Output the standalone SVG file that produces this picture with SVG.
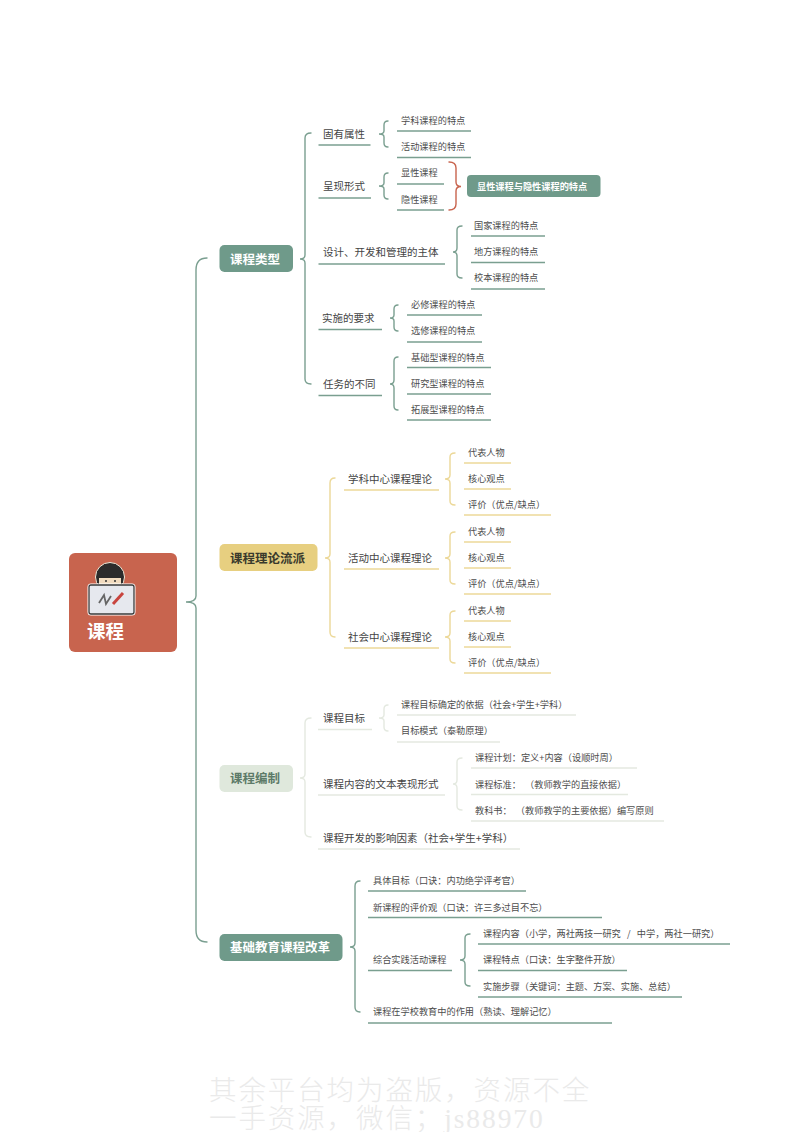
<svg xmlns="http://www.w3.org/2000/svg" width="800" height="1132" viewBox="0 0 800 1132">
<style>
text{font-family:"Noto Sans CJK SC","Liberation Sans",sans-serif;dominant-baseline:central}
.t2,.t3,.top,.tr{transform:translateY(-0.8px)}
.b{fill:none;stroke-width:1.4;stroke-linecap:round}
.u{stroke-width:1.4;fill:none}
.t2{font-size:10.5px;fill:#444}
.t3{font-size:9.2px;fill:#4d4d4d}
.top{font-size:12.5px;font-weight:700}
.gr{stroke:#7a9f90}
.ye{stroke:#ecd898}
.pa{stroke:#e4e9e0}
.re{stroke:#c8644e}
.wm{font-family:"Liberation Serif","Noto Sans CJK SC",serif;font-size:27.5px;letter-spacing:1.9px;fill:#eaeaea;font-weight:300}
</style>
<rect width="800" height="1132" fill="#fff"/>

<g id="connectors">
<path class="b gr" d="M207 258Q196 258 196 270V596Q196 602 186 602Q196 602 196 608V930Q196 942 207 942"/>
<path class="b gr" d="M311 133Q305 133 305 138V255Q305 259 300 259Q305 259 305 263V379Q305 384 311 384"/>
<path class="b gr" d="M388 121Q384 121 384 125V131Q384 134 379 134Q384 134 384 137V143Q384 147 388 147"/>
<path class="b gr" d="M388 173Q384 173 384 177V183Q384 186 379 186Q384 186 384 189V195Q384 199 388 199"/>
<path class="b re" d="M449 162Q456 162 456 168V182Q456 186.500 461 186.500Q456 186.500 456 191V204Q456 210 449 210"/>
<path class="b gr" d="M462 226Q457 226 457 230V248Q457 252 453 252Q457 252 457 256V274Q457 278 462 278"/>
<path class="b gr" d="M398 305Q394 305 394 309V315Q394 318 390 318Q394 318 394 321V327Q394 331 398 331"/>
<path class="b gr" d="M398 357Q394 357 394 361V380Q394 384 390 384Q394 384 394 388V406Q394 410 398 410"/>

<path class="b ye" d="M335 478Q330 478 330 483V554Q330 558 325 558Q330 558 330 562V632Q330 637 335 637"/>
<path class="b ye" d="M455 453Q450 453 450 457V475Q450 479 445 479Q450 479 450 483V501Q450 505 455 505"/>
<path class="b ye" d="M455 532Q450 532 450 536V554Q450 558 445 558Q450 558 450 562V580Q450 584 455 584"/>
<path class="b ye" d="M455 611Q450 611 450 615V633Q450 637 445 637Q450 637 450 641V659Q450 663 455 663"/>

<path class="b pa" d="M311 718Q305 718 305 723V774Q305 778 300 778Q305 778 305 782V832Q305 837 311 837"/>
<path class="b pa" d="M388 705Q384 705 384 709V715Q384 718 379 718Q384 718 384 721V727Q384 731 388 731"/>
<path class="b pa" d="M462 758Q457 758 457 762V780Q457 784 453 784Q457 784 457 788V806Q457 810 462 810"/>

<path class="b gr" d="M360 881Q355 881 355 886V943Q355 947 350 947Q355 947 355 951V1007Q355 1012 360 1012"/>
<path class="b gr" d="M470 934Q465 934 465 938V956Q465 960 460 960Q465 960 465 964V982Q465 986 470 986"/>
</g>

<g id="root">
<rect x="69" y="553" width="108" height="99" rx="6" fill="#c8644e"/>
<circle cx="110" cy="577" r="14.500" fill="#2c2b2b" stroke="#f3ead9" stroke-width="1"/>
<rect x="99" y="578" width="22" height="8" fill="#f2dcc0"/>
<circle cx="106" cy="581" r="1" fill="#333"/><circle cx="115" cy="581" r="1" fill="#333"/>
<rect x="89" y="585" width="45" height="29" rx="2" fill="#e6e8ee" stroke="#fff" stroke-width="3"/>
<rect x="89" y="585" width="45" height="29" rx="2" fill="#e6e8ee" stroke="#3a3a3a" stroke-width="1.300"/>
<path d="M99 603L104 595L106 604L111 596" fill="none" stroke="#666" stroke-width="1.800"/>
<path d="M113 604L123 593" fill="none" stroke="#c8443e" stroke-width="3"/>
<text x="87" y="631" class="tr" font-size="18.500" font-weight="700" fill="#fff">课程</text>
</g>

<g id="n1"><rect x="219.500" y="245" width="73.500" height="27" rx="5" fill="#6f9a8a"/><text x="230" y="259" class="top" fill="#fff">课程类型</text></g>
<g id="n1-1"><text x="323" y="134" class="t2">固有属性</text><path class="u gr" d="M318.500 145H370.500"/></g>
<g id="n1-1-1"><text x="401" y="120.500" class="t3">学科课程的特点</text><path class="u gr" d="M397 131H471"/></g>
<g id="n1-1-2"><text x="401" y="147" class="t3">活动课程的特点</text><path class="u gr" d="M397 157.500H471"/></g>
<g id="n1-2"><text x="323" y="186.500" class="t2">呈现形式</text><path class="u gr" d="M318.500 198H371"/></g>
<g id="n1-2-1"><text x="401" y="173" class="t3">显性课程</text><path class="u gr" d="M397 184H444"/></g>
<g id="n1-2-2"><text x="401" y="199.500" class="t3">隐性课程</text><path class="u gr" d="M397 210H444"/></g>
<g id="n1-s"><rect x="467" y="175" width="133.500" height="22" rx="4" fill="#6f9a8a"/><text x="477" y="186.500" class="tr" font-size="9.200" font-weight="700" fill="#fff">显性课程与隐性课程的特点</text></g>
<g id="n1-3"><text x="323" y="252" class="t2">设计、开发和管理的主体</text><path class="u gr" d="M318.500 264H445"/></g>
<g id="n1-3-1"><text x="474" y="226" class="t3">国家课程的特点</text><path class="u gr" d="M471 236H545"/></g>
<g id="n1-3-2"><text x="474" y="252" class="t3">地方课程的特点</text><path class="u gr" d="M471 262.500H545"/></g>
<g id="n1-3-3"><text x="474" y="278" class="t3">校本课程的特点</text><path class="u gr" d="M471 289H545"/></g>
<g id="n1-4"><text x="322" y="318" class="t2">实施的要求</text><path class="u gr" d="M318.500 329.500H382"/></g>
<g id="n1-4-1"><text x="411" y="305" class="t3">必修课程的特点</text><path class="u gr" d="M407 315H482"/></g>
<g id="n1-4-2"><text x="411" y="331" class="t3">选修课程的特点</text><path class="u gr" d="M407 342H482"/></g>
<g id="n1-5"><text x="323" y="384" class="t2">任务的不同</text><path class="u gr" d="M318.500 395.500H382"/></g>
<g id="n1-5-1"><text x="411" y="358" class="t3">基础型课程的特点</text><path class="u gr" d="M407 367.500H491"/></g>
<g id="n1-5-2"><text x="411" y="384" class="t3">研究型课程的特点</text><path class="u gr" d="M407 394H491"/></g>
<g id="n1-5-3"><text x="411" y="410" class="t3">拓展型课程的特点</text><path class="u gr" d="M407 420H491"/></g>

<g id="n2"><rect x="219.500" y="544" width="98" height="27" rx="5" fill="#e7cf80"/><text x="230" y="558" class="top" fill="#3a3a2c">课程理论流派</text></g>
<g id="n2-1"><text x="348" y="479" class="t2">学科中心课程理论</text><path class="u ye" d="M344 490H439"/></g>
<g id="n2-1-1"><text x="468" y="452.500" class="t3">代表人物</text><path class="u ye" d="M464 463H511"/></g>
<g id="n2-1-2"><text x="468" y="479" class="t3">核心观点</text><path class="u ye" d="M464 489H511"/></g>
<g id="n2-1-3"><text x="468" y="505" class="t3">评价（优点/缺点）</text><path class="u ye" d="M464 515H551"/></g>
<g id="n2-2"><text x="348" y="558" class="t2">活动中心课程理论</text><path class="u ye" d="M344 569H439"/></g>
<g id="n2-2-1"><text x="468" y="531.500" class="t3">代表人物</text><path class="u ye" d="M464 542H511"/></g>
<g id="n2-2-2"><text x="468" y="558" class="t3">核心观点</text><path class="u ye" d="M464 568H511"/></g>
<g id="n2-2-3"><text x="468" y="584" class="t3">评价（优点/缺点）</text><path class="u ye" d="M464 594H551"/></g>
<g id="n2-3"><text x="348" y="637" class="t2">社会中心课程理论</text><path class="u ye" d="M344 648H439"/></g>
<g id="n2-3-1"><text x="468" y="610.500" class="t3">代表人物</text><path class="u ye" d="M464 621H511"/></g>
<g id="n2-3-2"><text x="468" y="637" class="t3">核心观点</text><path class="u ye" d="M464 647H511"/></g>
<g id="n2-3-3"><text x="468" y="663" class="t3">评价（优点/缺点）</text><path class="u ye" d="M464 673H551"/></g>

<g id="n3"><rect x="219.500" y="765" width="73.500" height="27" rx="5" fill="#dfe8dc"/><text x="230" y="778" class="top" fill="#5c7a68">课程编制</text></g>
<g id="n3-1"><text x="323" y="718.500" class="t2">课程目标</text><path class="u pa" d="M318 729.500H372"/></g>
<g id="n3-1-1"><text x="401" y="705" class="t3">课程目标确定的依据（社会+学生+学科）</text><path class="u pa" d="M397 715H576"/></g>
<g id="n3-1-2"><text x="401" y="731" class="t3">目标模式（泰勒原理）</text><path class="u pa" d="M397 742H500"/></g>
<g id="n3-2"><text x="323" y="784" class="t2">课程内容的文本表现形式</text><path class="u pa" d="M318 795H445"/></g>
<g id="n3-2-1"><text x="475" y="758" class="t3">课程计划：定义+内容（设顺时周）</text><path class="u pa" d="M471 768H637"/></g>
<g id="n3-2-2"><text x="475" y="784.500" class="t3">课程标准：&#160;&#160;（教师教学的直接依据）</text><path class="u pa" d="M471 794.500H628"/></g>
<g id="n3-2-3"><text x="475" y="811" class="t3">教科书：&#160;&#160;（教师教学的主要依据）编写原则</text><path class="u pa" d="M471 821H664"/></g>
<g id="n3-3"><text x="323" y="838" class="t2">课程开发的影响因素（社会+学生+学科）</text><path class="u pa" d="M318 849H520"/></g>

<g id="n4"><rect x="219.500" y="934" width="123" height="27" rx="5" fill="#6f9a8a"/><text x="230" y="947" class="top" fill="#fff">基础教育课程改革</text></g>
<g id="n4-1"><text x="373" y="881" class="t3">具体目标（口诀：内功绝学评考官）</text><path class="u gr" d="M368 891H526"/></g>
<g id="n4-2"><text x="373" y="908" class="t3">新课程的评价观（口诀：许三多过目不忘）</text><path class="u gr" d="M368 917.500H602"/></g>
<g id="n4-3"><text x="373" y="960" class="t3">综合实践活动课程</text><path class="u gr" d="M368 970.500H452"/></g>
<g id="n4-3-1"><text x="483" y="934" class="t3">课程内容（小学，两社两技一研究&#160;&#160;&#160;/&#160;&#160;&#160;中学，两社一研究）</text><path class="u gr" d="M478 944H730"/></g>
<g id="n4-3-2"><text x="483" y="960" class="t3">课程特点（口诀：生字整件开放）</text><path class="u gr" d="M478 970.500H627"/></g>
<g id="n4-3-3"><text x="483" y="986.500" class="t3">实施步骤（关键词：主题、方案、实施、总结）</text><path class="u gr" d="M478 997H682"/></g>
<g id="n4-4"><text x="373" y="1012" class="t3">课程在学校教育中的作用（熟读、理解记忆）</text><path class="u gr" d="M368 1023H612"/></g>

<g id="watermark">
<text x="209" y="1090" class="wm">其余平台均为盗版，资源不全</text>
<text x="209" y="1118" class="wm">一手资源，微信；js88970</text>
</g>
</svg>
